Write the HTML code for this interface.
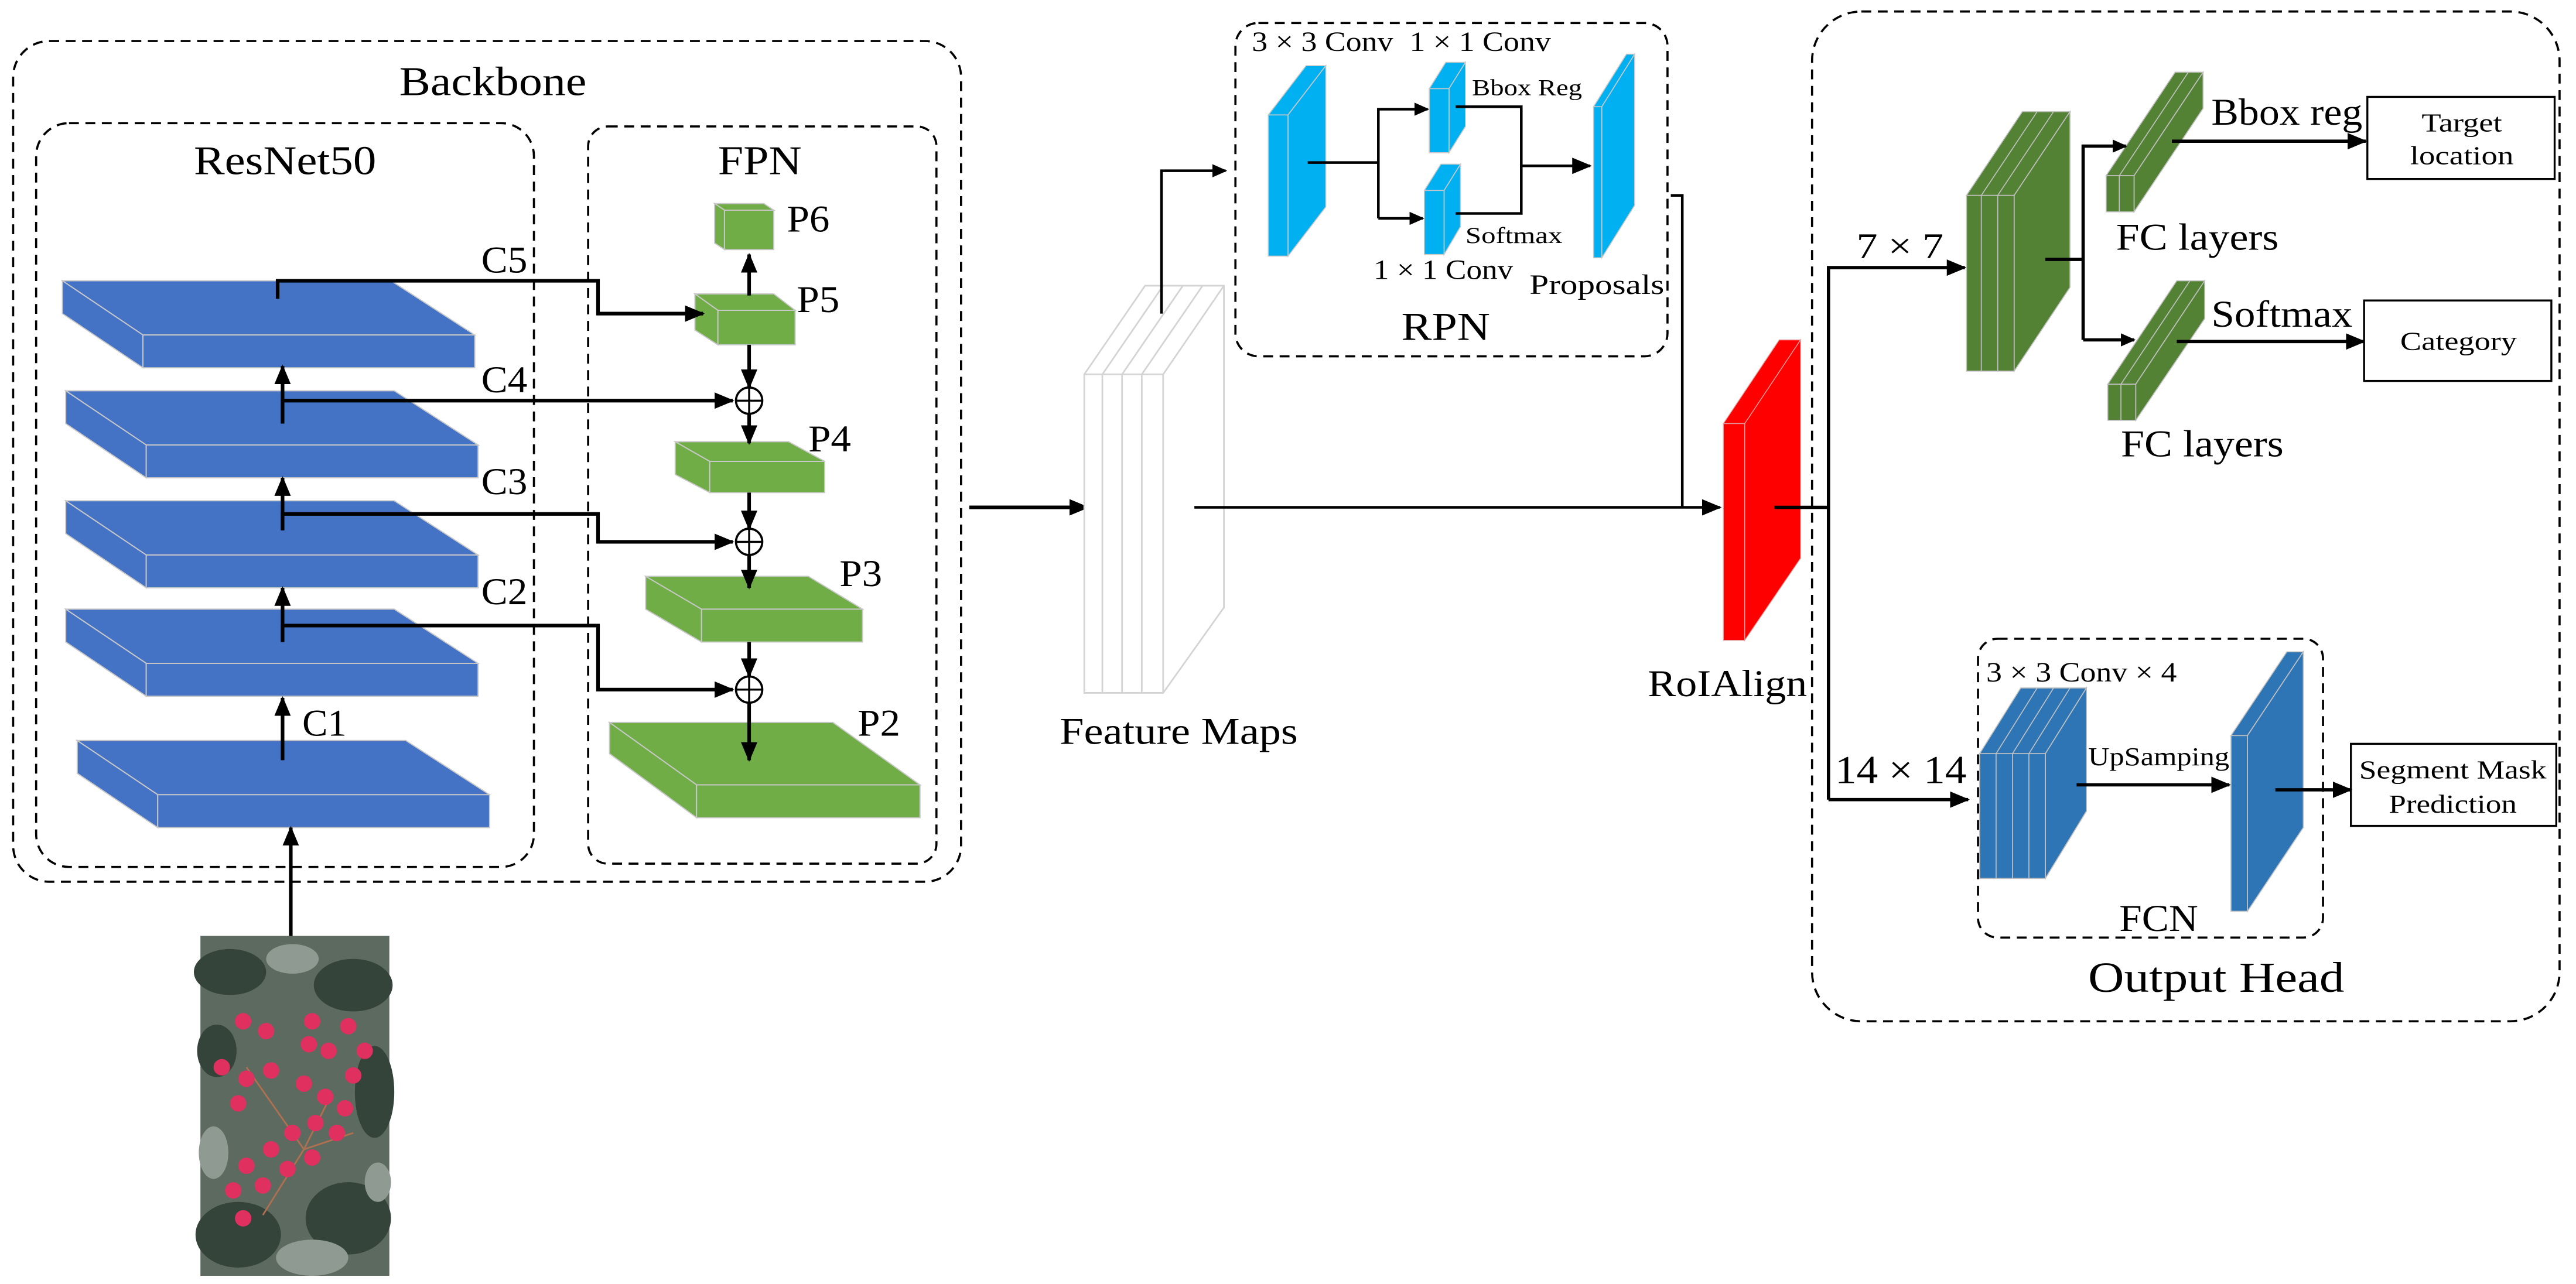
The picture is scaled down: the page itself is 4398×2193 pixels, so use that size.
<!DOCTYPE html>
<html><head><meta charset="utf-8"><style>html,body{margin:0;padding:0;background:#fff}svg{display:block}text{font-family:"Liberation Serif",serif;fill:#000}</style></head><body>
<svg width="4398" height="2193" viewBox="0 0 1568 782" preserveAspectRatio="none" xmlns="http://www.w3.org/2000/svg">
<defs>
<marker id="a" markerUnits="userSpaceOnUse" markerWidth="12" markerHeight="10" refX="11" refY="5" orient="auto"><path d="M0,0 L12,5 L0,10 z" fill="#000"/></marker>
<marker id="s" markerUnits="userSpaceOnUse" markerWidth="9" markerHeight="8" refX="8" refY="4" orient="auto"><path d="M0,0 L9,4 L0,8 z" fill="#000"/></marker>
</defs>
<g fill="none" stroke="#000" stroke-width="1.3" stroke-dasharray="6 4">
<rect x="8" y="25" width="577" height="512" rx="22"/>
<rect x="22" y="75" width="303" height="453" rx="20"/>
<rect x="358" y="77" width="212" height="449" rx="12"/>
<rect x="752" y="14" width="263" height="203" rx="14"/>
<rect x="1103" y="7" width="455" height="615" rx="30"/>
<rect x="1204" y="389" width="210" height="182" rx="12"/>
</g>
<g font-size="25" lengthAdjust="spacingAndGlyphs">
<text x="243" y="58" textLength="114" lengthAdjust="spacingAndGlyphs">Backbone</text>
<text x="118" y="106" textLength="111" lengthAdjust="spacingAndGlyphs">ResNet50</text>
<text x="437" y="106" textLength="51" lengthAdjust="spacingAndGlyphs">FPN</text>
</g>
<!-- blue slabs -->
<g fill="#4472C4" stroke="#c8c8c8" stroke-width="0.7">
<g transform="translate(38,171)"><polygon points="0,0 200,0 251,33 49,33"/><polygon points="0,0 49,33 49,53 0,20"/><rect x="49" y="33" width="202" height="20"/></g>
<g transform="translate(40,238)"><polygon points="0,0 200,0 251,33 49,33"/><polygon points="0,0 49,33 49,53 0,20"/><rect x="49" y="33" width="202" height="20"/></g>
<g transform="translate(40,305)"><polygon points="0,0 200,0 251,33 49,33"/><polygon points="0,0 49,33 49,53 0,20"/><rect x="49" y="33" width="202" height="20"/></g>
<g transform="translate(40,371)"><polygon points="0,0 200,0 251,33 49,33"/><polygon points="0,0 49,33 49,53 0,20"/><rect x="49" y="33" width="202" height="20"/></g>
<g transform="translate(47,451)"><polygon points="0,0 200,0 251,33 49,33"/><polygon points="0,0 49,33 49,53 0,20"/><rect x="49" y="33" width="202" height="20"/></g>
</g>
<!-- green FPN -->
<g fill="#70AD47" stroke="#c8c8c8" stroke-width="0.7">
<polygon points="435,124 465,124 471,128 441,128"/><polygon points="435,124 441,128 441,152 435,148"/><rect x="441" y="128" width="30" height="24"/>
<polygon points="423,179 471,179 484,189 437,189"/><polygon points="423,179 437,189 437,210 423,201"/><rect x="437" y="189" width="47" height="21"/>
<polygon points="411,269 480,269 502,281 432,281"/><polygon points="411,269 432,281 432,300 411,289"/><rect x="432" y="281" width="70" height="19"/>
<polygon points="393,351 492,351 525,371 427,371"/><polygon points="393,351 427,371 427,391 393,371"/><rect x="427" y="371" width="98" height="20"/>
<polygon points="371,440 507,440 560,478 424,478"/><polygon points="371,440 424,478 424,498 371,459"/><rect x="424" y="478" width="136" height="20"/>
</g>
<g stroke="#000" stroke-width="2.2" fill="none">
<polyline points="169,182 169,171 364,171 364,191 428,191" marker-end="url(#a)"/>
<polyline points="172,258 172,244 446,244" marker-end="url(#a)"/>
<line x1="172" y1="258" x2="172" y2="223" marker-end="url(#a)"/>
<polyline points="172,323 172,313 364,313 364,330 446,330" marker-end="url(#a)"/>
<line x1="172" y1="323" x2="172" y2="291" marker-end="url(#a)"/>
<polyline points="172,391 172,381 364,381 364,420 446,420" marker-end="url(#a)"/>
<line x1="172" y1="391" x2="172" y2="358" marker-end="url(#a)"/>
<line x1="172" y1="463" x2="172" y2="425" marker-end="url(#a)"/>
<line x1="177" y1="570" x2="177" y2="504" marker-end="url(#a)"/>
<line x1="456" y1="180" x2="456" y2="155" marker-end="url(#a)"/>
<line x1="456" y1="210" x2="456" y2="236" marker-end="url(#a)"/>
<line x1="456" y1="252" x2="456" y2="270" marker-end="url(#a)"/>
<line x1="456" y1="300" x2="456" y2="322" marker-end="url(#a)"/>
<line x1="456" y1="338" x2="456" y2="358" marker-end="url(#a)"/>
<line x1="456" y1="391" x2="456" y2="412" marker-end="url(#a)"/>
<line x1="456" y1="428" x2="456" y2="463" marker-end="url(#a)"/>
<line x1="590" y1="309" x2="662" y2="309" marker-end="url(#a)"/>
</g>
<g fill="#fff" stroke="#000" stroke-width="1.3">
<circle cx="456" cy="244" r="8"/><circle cx="456" cy="330" r="8"/><circle cx="456" cy="420" r="8"/>
</g>
<g stroke="#000" stroke-width="1.2"><path d="M448,244h16M456,236v16M448,330h16M456,322v16M448,420h16M456,412v16"/></g>
<g font-size="23">
<text x="293" y="166" textLength="28" lengthAdjust="spacingAndGlyphs">C5</text>
<text x="293" y="239" textLength="28" lengthAdjust="spacingAndGlyphs">C4</text>
<text x="293" y="301" textLength="28" lengthAdjust="spacingAndGlyphs">C3</text>
<text x="293" y="368" textLength="28" lengthAdjust="spacingAndGlyphs">C2</text>
<text x="184" y="448" textLength="27" lengthAdjust="spacingAndGlyphs">C1</text>
<text x="479" y="141" textLength="26" lengthAdjust="spacingAndGlyphs">P6</text>
<text x="485" y="190" textLength="26" lengthAdjust="spacingAndGlyphs">P5</text>
<text x="492" y="275" textLength="26" lengthAdjust="spacingAndGlyphs">P4</text>
<text x="511" y="357" textLength="26" lengthAdjust="spacingAndGlyphs">P3</text>
<text x="522" y="448" textLength="26" lengthAdjust="spacingAndGlyphs">P2</text>
</g>
<!-- photo -->
<rect x="122" y="570" width="115" height="207" fill="#5d6a60"/>
<g fill="#34443a"><ellipse cx="140" cy="592" rx="22" ry="14"/><ellipse cx="215" cy="600" rx="24" ry="16"/><ellipse cx="145" cy="752" rx="26" ry="20"/><ellipse cx="212" cy="742" rx="26" ry="22"/><ellipse cx="228" cy="665" rx="12" ry="28"/><ellipse cx="132" cy="640" rx="12" ry="16"/></g>
<g fill="#8e9a92"><ellipse cx="178" cy="584" rx="16" ry="9"/><ellipse cx="190" cy="766" rx="22" ry="11"/><ellipse cx="130" cy="702" rx="9" ry="16"/><ellipse cx="230" cy="720" rx="8" ry="12"/></g>
<g stroke="#b07050" stroke-width="1" fill="none"><path d="M150,650 L185,700 L200,670 M185,700 L160,740 M185,700 L215,690"/></g>
<g fill="#e0305f"><circle cx="148" cy="622" r="5"/><circle cx="162" cy="628" r="5"/><circle cx="190" cy="622" r="5"/><circle cx="212" cy="625" r="5"/><circle cx="200" cy="640" r="5"/><circle cx="188" cy="636" r="5"/><circle cx="135" cy="650" r="5"/><circle cx="150" cy="657" r="5"/><circle cx="165" cy="652" r="5"/><circle cx="185" cy="660" r="5"/><circle cx="198" cy="668" r="5"/><circle cx="210" cy="675" r="5"/><circle cx="205" cy="690" r="5"/><circle cx="192" cy="684" r="5"/><circle cx="178" cy="690" r="5"/><circle cx="165" cy="700" r="5"/><circle cx="150" cy="710" r="5"/><circle cx="142" cy="725" r="5"/><circle cx="160" cy="722" r="5"/><circle cx="175" cy="712" r="5"/><circle cx="190" cy="705" r="5"/><circle cx="215" cy="655" r="5"/><circle cx="222" cy="640" r="5"/><circle cx="145" cy="672" r="5"/><circle cx="148" cy="742" r="5"/></g>
<!-- feature maps -->
<g fill="#fff" stroke="#d4d4d4" stroke-width="1">
<polygon points="660,228 697,174 745,174 745,370 708,422 660,422"/>
<path d="M671,228 L708,174 M683,228 L720,174 M695,228 L732,174 M708,228 L745,174 M660,228 H708 M671,228 V422 M683,228 V422 M695,228 V422 M708,228 V422"/>
</g>
<text x="645" y="453" font-size="23" textLength="145" lengthAdjust="spacingAndGlyphs">Feature Maps</text>
<g stroke="#000" stroke-width="1.6" fill="none">
<polyline points="707,191 707,104 746,104" marker-end="url(#s)"/>
<line x1="727" y1="309" x2="1047" y2="309" marker-end="url(#a)"/>
<polyline points="1017,119 1024,119 1024,309"/>
</g>
<!-- RPN -->
<g fill="#00B0F0" stroke="#c8c8c8" stroke-width="0.6">
<polygon points="772,70 784,70 807,40 795,40"/><polygon points="784,70 807,40 807,126 784,156"/><rect x="772" y="70" width="12" height="86"/>
<polygon points="870,54 882,54 892,38 880,38"/><polygon points="882,54 892,38 892,77 882,93"/><rect x="870" y="54" width="12" height="39"/>
<polygon points="867,116 879,116 889,100 877,100"/><polygon points="879,116 889,100 889,138 879,155"/><rect x="867" y="116" width="12" height="39"/>
<polygon points="970,65 975,65 995,33 990,33"/><polygon points="975,65 995,33 995,125 975,157"/><rect x="970" y="65" width="5" height="92"/>
</g>
<g stroke="#000" stroke-width="1.6" fill="none">
<polyline points="796,99 839,99"/>
<polyline points="839,133 839,66.5 869,66.5" marker-end="url(#s)"/>
<polyline points="839,133 866,133" marker-end="url(#s)"/>
<polyline points="886,65 926,65 926,130 886,130"/>
<line x1="926" y1="101" x2="968" y2="101" marker-end="url(#a)"/>
</g>
<g font-size="17">
<text x="762" y="31" textLength="86" lengthAdjust="spacingAndGlyphs">3 × 3 Conv</text>
<text x="858" y="31" textLength="86" lengthAdjust="spacingAndGlyphs">1 × 1 Conv</text>
<text x="836" y="170" textLength="85" lengthAdjust="spacingAndGlyphs">1 × 1 Conv</text>
<text x="931" y="179" textLength="82" lengthAdjust="spacingAndGlyphs">Proposals</text>
</g>
<g font-size="14"><text x="896" y="58" textLength="67" lengthAdjust="spacingAndGlyphs">Bbox Reg</text><text x="892" y="148" textLength="59" lengthAdjust="spacingAndGlyphs">Softmax</text></g>
<text x="853" y="207" font-size="24" textLength="54" lengthAdjust="spacingAndGlyphs">RPN</text>
<!-- RoIAlign -->
<g fill="#FF0000" stroke="#e0a0a0" stroke-width="0.5"><polygon points="1049,258 1062,258 1096,207 1083,207"/><polygon points="1062,258 1096,207 1096,340 1062,390"/><rect x="1049" y="258" width="13" height="132"/></g>
<text x="1003" y="424" font-size="23" textLength="97" lengthAdjust="spacingAndGlyphs">RoIAlign</text>
<g stroke="#000" stroke-width="2" fill="none">
<line x1="1080" y1="309" x2="1113" y2="309"/>
<polyline points="1113,487 1113,163 1196,163" marker-end="url(#a)"/>
<line x1="1113" y1="487" x2="1198" y2="487" marker-end="url(#a)"/>
</g>
<text x="1130" y="157" font-size="22" textLength="53" lengthAdjust="spacingAndGlyphs">7 × 7</text>
<text x="1117" y="477" font-size="24" textLength="80" lengthAdjust="spacingAndGlyphs">14 × 14</text>
<!-- green 7x7 -->
<g fill="#548235" stroke="#c0c0c0" stroke-width="0.6">
<polygon points="1197,119 1226,119 1260,68 1231,68"/><polygon points="1226,119 1260,68 1260,175 1226,226"/><rect x="1197" y="119" width="29" height="107"/>
<path d="M1206,119 V226 M1216,119 V226 M1206,119 L1240,68 M1216,119 L1250,68" fill="none"/>
<polygon points="1282,107 1299,107 1341,44 1324,44"/><polygon points="1299,107 1341,44 1341,66 1299,129"/><rect x="1282" y="107" width="17" height="22"/>
<path d="M1290,107 V129 M1290,107 L1332,44" fill="none"/>
<polygon points="1283,234 1300,234 1342,171 1325,171"/><polygon points="1300,234 1342,171 1342,194 1300,256"/><rect x="1283" y="234" width="17" height="22"/>
<path d="M1291,234 V256 M1291,234 L1333,171" fill="none"/>
</g>
<g stroke="#000" stroke-width="2" fill="none">
<line x1="1245" y1="158" x2="1268" y2="158"/>
<polyline points="1268,207 1268,89 1294,89" marker-end="url(#s)"/>
<line x1="1268" y1="207" x2="1299" y2="207" marker-end="url(#s)"/>
<line x1="1322" y1="86" x2="1440" y2="86" marker-end="url(#a)"/>
<line x1="1325" y1="208" x2="1439" y2="208" marker-end="url(#a)"/>
</g>
<g font-size="23">
<text x="1346" y="76" textLength="92" lengthAdjust="spacingAndGlyphs">Bbox reg</text>
<text x="1288" y="152" textLength="99" lengthAdjust="spacingAndGlyphs">FC layers</text>
<text x="1346" y="199" textLength="86" lengthAdjust="spacingAndGlyphs">Softmax</text>
<text x="1291" y="278" textLength="99" lengthAdjust="spacingAndGlyphs">FC layers</text>
</g>
<g fill="#fff" stroke="#000" stroke-width="1.2"><rect x="1441" y="59" width="114" height="50"/><rect x="1439" y="183" width="114" height="49"/><rect x="1431" y="453" width="125" height="50"/></g>
<g font-size="16">
<text x="1474" y="80" textLength="49" lengthAdjust="spacingAndGlyphs">Target</text>
<text x="1467" y="100" textLength="63" lengthAdjust="spacingAndGlyphs">location</text>
<text x="1461" y="213" textLength="71" lengthAdjust="spacingAndGlyphs">Category</text>
<text x="1436" y="474" textLength="114" lengthAdjust="spacingAndGlyphs">Segment Mask</text>
<text x="1454" y="495" textLength="78" lengthAdjust="spacingAndGlyphs">Prediction</text>
</g>
<!-- FCN -->
<g fill="#2E75B6" stroke="#c0c0c0" stroke-width="0.6">
<polygon points="1205,459 1245,459 1270,419 1230,419"/><polygon points="1245,459 1270,419 1270,494 1245,535"/><rect x="1205" y="459" width="40" height="76"/>
<path d="M1215,459 V535 M1225,459 V535 M1235,459 V535 M1215,459 L1240,419 M1225,459 L1250,419 M1235,459 L1260,419" fill="none"/>
<polygon points="1358,448 1368,448 1402,397 1392,397"/><polygon points="1368,448 1402,397 1402,504 1368,555"/><rect x="1358" y="448" width="10" height="107"/>
</g>
<g stroke="#000" stroke-width="2" fill="none">
<line x1="1264" y1="478" x2="1357" y2="478" marker-end="url(#a)"/>
<line x1="1385" y1="481" x2="1431" y2="481" marker-end="url(#a)"/>
</g>
<text x="1209" y="415" font-size="17" textLength="116" lengthAdjust="spacingAndGlyphs">3 × 3 Conv × 4</text>
<text x="1271" y="466" font-size="16" textLength="86" lengthAdjust="spacingAndGlyphs">UpSamping</text>
<text x="1290" y="567" font-size="23" textLength="48" lengthAdjust="spacingAndGlyphs">FCN</text>
<text x="1271" y="604" font-size="26" textLength="156" lengthAdjust="spacingAndGlyphs">Output Head</text>
</svg>
</body></html>
